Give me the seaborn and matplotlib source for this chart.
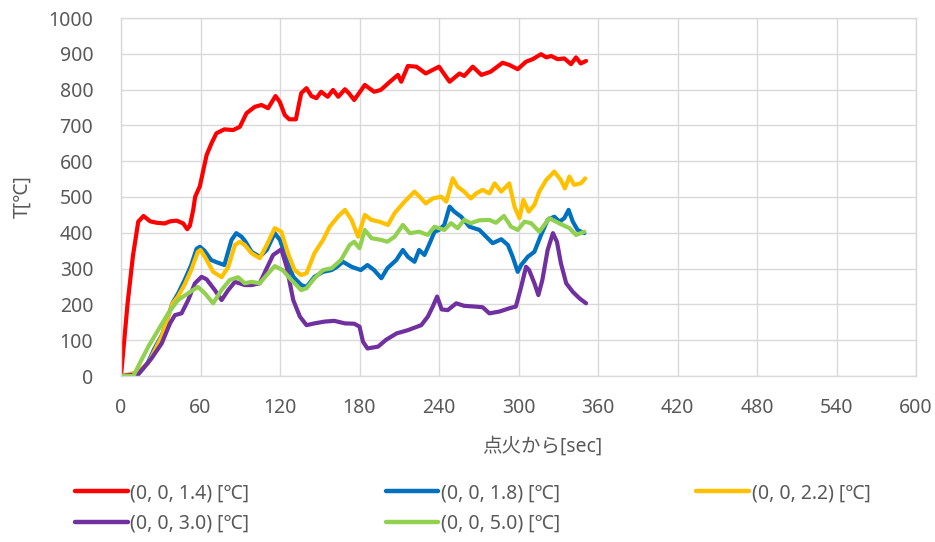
import matplotlib
matplotlib.use("Agg")
import matplotlib.pyplot as plt
import pandas as pd
import seaborn as sns

# Thermocouple positions (x, y, z) and their series colours
sensor_labels = ["(0, 0, 1.4) [℃]", "(0, 0, 1.8) [℃]", "(0, 0, 2.2) [℃]",
                 "(0, 0, 3.0) [℃]", "(0, 0, 5.0) [℃]"]
sensor_colors = ["#FF0000", "#0070C0", "#FFC000", "#7030A0", "#92D050"]

x_ticks = [0, 60, 120, 180, 240, 300, 360, 420, 480, 540, 600]
y_ticks = [0, 100, 200, 300, 400, 500, 600, 700, 800, 900, 1000]

# Temperature readings: elapsed time [sec] and temperature [℃]
t_14 = [0, 5, 9, 13, 17, 22, 27, 33, 37, 42, 47, 50, 52, 54.5, 56, 59.5, 64.6, 68.3,
        72, 78, 84.6, 89.7, 94.7, 101, 106, 111, 116.6, 119.8, 123.6, 127, 132, 136,
        140, 143.7, 147.5, 151, 156, 160, 164, 169, 172, 176, 184, 191, 196, 203, 209,
        211.5, 216.5, 223, 230, 240, 248, 255.5, 259, 265.5, 272, 279, 288, 293, 299.4,
        305.7, 310.7, 317, 321, 324.6, 329.5, 334.6, 339.6, 343.4, 347, 351]
T_14 = [0, 204, 335, 431, 447, 432, 428, 426, 432, 434, 426, 410, 420, 464, 501, 530, 617, 650,
        678, 689, 687, 696, 734, 752, 757, 748, 782, 766, 729, 717, 717, 790,
        804, 782, 776, 794, 780, 799, 780, 801, 790, 771, 813, 794, 799, 822, 841,
        822, 866, 864, 845, 864, 822, 845, 838, 864, 841, 850, 875, 869, 857,
        878, 885, 899, 890, 894, 885, 887, 871, 890, 873, 880]

t_18 = [0, 10, 13, 20, 25, 31, 39, 43, 48, 53, 57, 59.5, 63, 68, 72, 78, 83.4, 87, 91, 94,
        98.5, 104.7, 110, 116, 120, 125, 130, 136, 140, 146, 152.5, 159, 163, 167.5, 174,
        181, 186, 191, 196.5, 201, 207.8, 212.7, 216.5, 221.5, 225, 229, 233, 236.6, 240,
        244, 248, 251.6, 256.7, 263, 270.5, 275.6, 280.5, 287, 292, 295.6, 299.4, 302,
        307, 312, 317, 322, 327, 331, 334.6, 337.8, 341, 344.6, 349.7]
T_18 = [0, 0, 5, 35, 75, 115, 205, 230, 268, 310, 355, 361, 350, 324, 318, 310, 380, 399, 389, 375,
        347, 333, 352, 399, 380, 324, 277, 254, 249, 277, 291, 296, 305, 319, 305,
        296, 310, 296, 273, 301, 324, 352, 333, 319, 352, 338, 371, 403, 408,
        422, 473, 459, 445, 417, 408, 389, 371, 382, 366, 333, 291, 310,
        333, 347, 394, 436, 445, 431, 441, 464, 431, 408, 399]

t_22 = [0, 11.8, 20.6, 25.6, 30.7, 35, 39, 43, 48, 53, 58, 60, 63.3, 69.5, 75.9, 81, 86,
        89.7, 93.4, 98.5, 104.7, 110, 116, 121, 126, 131, 136, 140, 146, 152.5, 157.5,
        163.7, 169, 174, 179, 184, 189, 195, 201.5, 206.5, 214, 221.5, 226.6, 230,
        235.3, 241.7, 245.5, 250.4, 254, 259, 264, 268, 273, 278, 282, 287, 293, 297,
        300.7, 303.7, 307.7, 312, 315.7, 320.8, 327, 332, 335, 338.4, 342, 347, 350.4]
T_22 = [0, 10, 35, 73, 110, 160, 203, 222, 255, 296, 347, 352, 333, 291, 276, 305, 366,
        375, 366, 343, 329, 366, 413, 403, 343, 296, 282, 287, 343, 380, 417,
        445, 464, 436, 389, 450, 436, 431, 422, 455, 487, 515, 496, 482,
        496, 501, 487, 552, 529, 515, 496, 510, 520, 510, 538, 515, 538, 473,
        441, 492, 459, 478, 515, 547, 571, 547, 524, 557, 534, 538, 552]

t_30 = [0, 13, 23, 30.7, 37, 40.7, 45.7, 50.7, 55.8, 60.8, 64.6, 70.8, 75.9, 80.9, 86,
        93.4, 98.5, 104.7, 110, 114.8, 121, 125, 130, 135, 140, 146, 153.7, 161, 169,
        176, 180, 182.6, 186, 194, 200, 208, 216.5, 226.6, 231.6, 235.3, 238.6, 242,
        246.6, 253, 259, 267, 273, 278, 285.6, 293, 298, 302, 305.7, 308, 312, 315,
        318, 322, 326, 329, 332, 336, 341, 346, 351]
T_30 = [0, 5, 49, 91, 147, 170, 175, 212, 259, 277, 270, 240, 212, 240, 263,
        254, 254, 259, 301, 338, 354, 305, 212, 166, 142, 147, 152, 154, 147,
        146, 138, 96, 77, 82, 101, 119, 128, 142, 166, 194, 222, 186,
        184, 203, 196, 194, 192, 175, 180, 189, 194, 249, 305, 296, 259, 226,
        268, 352, 399, 375, 315, 259, 235, 217, 203]

t_50 = [0, 9.3, 20.6, 28, 35.6, 43, 50.7, 58, 63.3, 69.5, 75.9, 82, 88.4, 93.4, 98.5,
        104.7, 110, 116, 122, 128.6, 136, 140, 146, 152.5, 159, 166, 172.6, 176, 180,
        184, 189, 196.5, 201, 206.5, 212.7, 218, 225, 231.5, 236.6, 244, 249, 254, 259,
        264, 270.5, 278, 283, 289, 294.4, 299.4, 304.5, 309.5, 315.7, 323.3, 328.3,
        333.3, 338.4, 343.4, 349.7]
T_50 = [0, 0, 82, 128, 175, 212, 231, 249, 231, 203, 240, 268, 276, 259, 263,
        259, 282, 307, 296, 268, 240, 245, 273, 296, 301, 324, 366, 375, 357,
        408, 385, 380, 375, 389, 422, 399, 403, 394, 417, 408, 427, 413, 436,
        427, 435, 436, 428, 447, 417, 408, 431, 427, 403, 441, 431,
        422, 413, 394, 403]

series_times = [t_14, t_18, t_22, t_30, t_50]
series_temps = [T_14, T_18, T_22, T_30, T_50]

df = pd.concat(
    [pd.DataFrame({"time": t, "temp": T, "sensor": lab})
     for lab, t, T in zip(sensor_labels, series_times, series_temps)],
    ignore_index=True,
)

sns.set_style("white")
plt.rcParams["font.family"] = ["Noto Sans", "Noto Sans CJK JP", "DejaVu Sans"]

text_gray = "#595959"
grid_gray = "#D9D9D9"
fs = 14

fig = plt.figure(figsize=(9.35, 5.42), dpi=100)
ax = fig.add_axes([121 / 935, 1 - 376 / 542, 795 / 935, 358 / 542])

sns.lineplot(data=df, x="time", y="temp", hue="sensor", hue_order=sensor_labels,
             palette=sensor_colors, estimator=None, sort=False, linewidth=3.0,
             solid_joinstyle="round", solid_capstyle="round", ax=ax)

ax.set_xlim(0, 600)
ax.set_ylim(0, 1000)
ax.set_xticks(x_ticks)
ax.set_yticks(y_ticks)
ax.set_axisbelow(True)
ax.grid(True, color=grid_gray, linewidth=1)
for spine in ax.spines.values():
    spine.set_color(grid_gray)
    spine.set_linewidth(1)
ax.tick_params(length=0, labelsize=fs, labelcolor=text_gray)
ax.tick_params(axis="x", pad=16)
ax.tick_params(axis="y", pad=20)

ax.set_xlabel("点火から[sec]", fontsize=fs, color=text_gray)
ax.set_ylabel("T[℃]", fontsize=fs, color=text_gray)
ax.xaxis.set_label_coords((542 - 121) / 795, -(447 - 376) / 358)
ax.xaxis.label.set_verticalalignment("center")
ax.yaxis.set_label_coords((22 - 121) / 795, 0.5)
ax.yaxis.label.set_verticalalignment("center")

# Legend below the plot, filled row by row
handles, labels = ax.get_legend_handles_labels()
ax.get_legend().remove()
order = [0, 3, 1, 4, 2]
leg = fig.legend([handles[i] for i in order], [labels[i] for i in order],
                 loc="upper left", bbox_to_anchor=(75 / 935, 1 - 483 / 542),
                 ncol=3, frameon=False, fontsize=fs, handlelength=2.7,
                 handletextpad=0.15, columnspacing=7.0, labelspacing=0.55,
                 borderaxespad=0, borderpad=0)
for line in leg.get_lines():
    line.set_linewidth(3.2)
for txt in leg.get_texts():
    txt.set_color(text_gray)

fig.savefig("out.png", dpi=100, facecolor="white")
